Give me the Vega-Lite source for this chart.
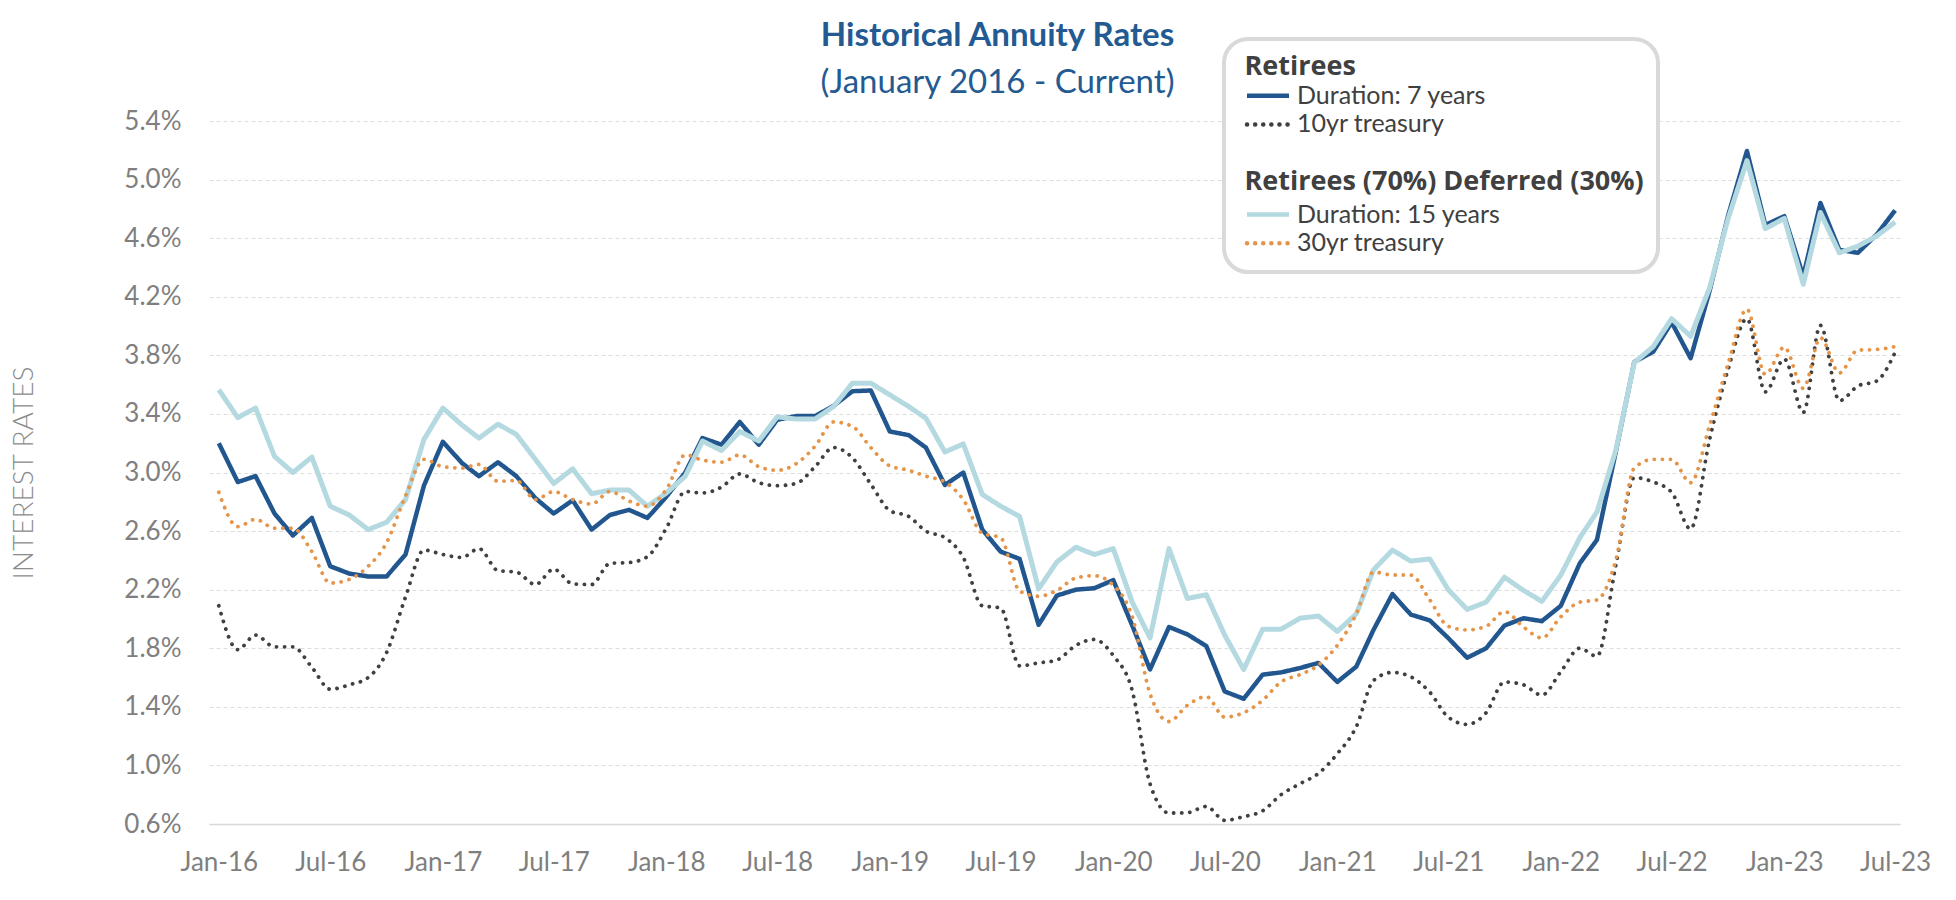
{
  "$schema": "https://vega.github.io/schema/vega-lite/v6.json",
  "width": 1691,
  "height": 703,
  "autosize": {"type": "none"},
  "padding": {"left": 209, "top": 121, "right": 56, "bottom": 76},
  "background": "white",
  "title": {
    "text": "Historical Annuity Rates",
    "subtitle": "(January 2016 - Current)",
    "anchor": "middle",
    "dx": -57,
    "dy": 71,
    "offset": 8,
    "font": "Lato",
    "fontSize": 33,
    "fontWeight": "bold",
    "color": "#235A92",
    "subtitleFont": "Lato",
    "subtitleFontSize": 33,
    "subtitleFontWeight": "normal",
    "subtitleColor": "#235A92",
    "subtitlePadding": 14
  },
  "data": {"values": [
    {"date":"2016-01-01","series":"Duration: 7 years","rate":3.20},{"date":"2016-02-01","series":"Duration: 7 years","rate":2.935},{"date":"2016-03-01","series":"Duration: 7 years","rate":2.975},{"date":"2016-04-01","series":"Duration: 7 years","rate":2.72},{"date":"2016-05-01","series":"Duration: 7 years","rate":2.57},{"date":"2016-06-01","series":"Duration: 7 years","rate":2.69},{"date":"2016-07-01","series":"Duration: 7 years","rate":2.36},{"date":"2016-08-01","series":"Duration: 7 years","rate":2.31},{"date":"2016-09-01","series":"Duration: 7 years","rate":2.29},{"date":"2016-10-01","series":"Duration: 7 years","rate":2.29},{"date":"2016-11-01","series":"Duration: 7 years","rate":2.44},{"date":"2016-12-01","series":"Duration: 7 years","rate":2.91},
    {"date":"2017-01-01","series":"Duration: 7 years","rate":3.21},{"date":"2017-02-01","series":"Duration: 7 years","rate":3.065},{"date":"2017-03-01","series":"Duration: 7 years","rate":2.975},{"date":"2017-04-01","series":"Duration: 7 years","rate":3.07},{"date":"2017-05-01","series":"Duration: 7 years","rate":2.975},{"date":"2017-06-01","series":"Duration: 7 years","rate":2.825},{"date":"2017-07-01","series":"Duration: 7 years","rate":2.72},{"date":"2017-08-01","series":"Duration: 7 years","rate":2.81},{"date":"2017-09-01","series":"Duration: 7 years","rate":2.61},{"date":"2017-10-01","series":"Duration: 7 years","rate":2.71},{"date":"2017-11-01","series":"Duration: 7 years","rate":2.745},{"date":"2017-12-01","series":"Duration: 7 years","rate":2.69},
    {"date":"2018-01-01","series":"Duration: 7 years","rate":2.835},{"date":"2018-02-01","series":"Duration: 7 years","rate":3.00},{"date":"2018-03-01","series":"Duration: 7 years","rate":3.235},{"date":"2018-04-01","series":"Duration: 7 years","rate":3.19},{"date":"2018-05-01","series":"Duration: 7 years","rate":3.345},{"date":"2018-06-01","series":"Duration: 7 years","rate":3.19},{"date":"2018-07-01","series":"Duration: 7 years","rate":3.36},{"date":"2018-08-01","series":"Duration: 7 years","rate":3.385},{"date":"2018-09-01","series":"Duration: 7 years","rate":3.385},{"date":"2018-10-01","series":"Duration: 7 years","rate":3.455},{"date":"2018-11-01","series":"Duration: 7 years","rate":3.555},{"date":"2018-12-01","series":"Duration: 7 years","rate":3.56},
    {"date":"2019-01-01","series":"Duration: 7 years","rate":3.28},{"date":"2019-02-01","series":"Duration: 7 years","rate":3.255},{"date":"2019-03-01","series":"Duration: 7 years","rate":3.17},{"date":"2019-04-01","series":"Duration: 7 years","rate":2.915},{"date":"2019-05-01","series":"Duration: 7 years","rate":3.00},{"date":"2019-06-01","series":"Duration: 7 years","rate":2.61},{"date":"2019-07-01","series":"Duration: 7 years","rate":2.46},{"date":"2019-08-01","series":"Duration: 7 years","rate":2.41},{"date":"2019-09-01","series":"Duration: 7 years","rate":1.96},{"date":"2019-10-01","series":"Duration: 7 years","rate":2.16},{"date":"2019-11-01","series":"Duration: 7 years","rate":2.20},{"date":"2019-12-01","series":"Duration: 7 years","rate":2.21},
    {"date":"2020-01-01","series":"Duration: 7 years","rate":2.265},{"date":"2020-02-01","series":"Duration: 7 years","rate":1.955},{"date":"2020-03-01","series":"Duration: 7 years","rate":1.655},{"date":"2020-04-01","series":"Duration: 7 years","rate":1.945},{"date":"2020-05-01","series":"Duration: 7 years","rate":1.895},{"date":"2020-06-01","series":"Duration: 7 years","rate":1.815},{"date":"2020-07-01","series":"Duration: 7 years","rate":1.505},{"date":"2020-08-01","series":"Duration: 7 years","rate":1.455},{"date":"2020-09-01","series":"Duration: 7 years","rate":1.62},{"date":"2020-10-01","series":"Duration: 7 years","rate":1.635},{"date":"2020-11-01","series":"Duration: 7 years","rate":1.665},{"date":"2020-12-01","series":"Duration: 7 years","rate":1.70},
    {"date":"2021-01-01","series":"Duration: 7 years","rate":1.57},{"date":"2021-02-01","series":"Duration: 7 years","rate":1.675},{"date":"2021-03-01","series":"Duration: 7 years","rate":1.925},{"date":"2021-04-01","series":"Duration: 7 years","rate":2.17},{"date":"2021-05-01","series":"Duration: 7 years","rate":2.03},{"date":"2021-06-01","series":"Duration: 7 years","rate":1.99},{"date":"2021-07-01","series":"Duration: 7 years","rate":1.87},{"date":"2021-08-01","series":"Duration: 7 years","rate":1.735},{"date":"2021-09-01","series":"Duration: 7 years","rate":1.80},{"date":"2021-10-01","series":"Duration: 7 years","rate":1.955},{"date":"2021-11-01","series":"Duration: 7 years","rate":2.005},{"date":"2021-12-01","series":"Duration: 7 years","rate":1.985},
    {"date":"2022-01-01","series":"Duration: 7 years","rate":2.09},{"date":"2022-02-01","series":"Duration: 7 years","rate":2.38},{"date":"2022-03-01","series":"Duration: 7 years","rate":2.54},{"date":"2022-04-01","series":"Duration: 7 years","rate":3.145},{"date":"2022-05-01","series":"Duration: 7 years","rate":3.755},{"date":"2022-06-01","series":"Duration: 7 years","rate":3.825},{"date":"2022-07-01","series":"Duration: 7 years","rate":4.025},{"date":"2022-08-01","series":"Duration: 7 years","rate":3.78},{"date":"2022-09-01","series":"Duration: 7 years","rate":4.24},{"date":"2022-10-01","series":"Duration: 7 years","rate":4.75},{"date":"2022-11-01","series":"Duration: 7 years","rate":5.195},{"date":"2022-12-01","series":"Duration: 7 years","rate":4.69},
    {"date":"2023-01-01","series":"Duration: 7 years","rate":4.75},{"date":"2023-02-01","series":"Duration: 7 years","rate":4.34},{"date":"2023-03-01","series":"Duration: 7 years","rate":4.84},{"date":"2023-04-01","series":"Duration: 7 years","rate":4.52},{"date":"2023-05-01","series":"Duration: 7 years","rate":4.50},{"date":"2023-06-01","series":"Duration: 7 years","rate":4.625},{"date":"2023-07-01","series":"Duration: 7 years","rate":4.79},

    {"date":"2016-01-01","series":"10yr treasury","rate":2.09},{"date":"2016-02-01","series":"10yr treasury","rate":1.79},{"date":"2016-03-01","series":"10yr treasury","rate":1.89},{"date":"2016-04-01","series":"10yr treasury","rate":1.81},{"date":"2016-05-01","series":"10yr treasury","rate":1.81},{"date":"2016-06-01","series":"10yr treasury","rate":1.67},{"date":"2016-07-01","series":"10yr treasury","rate":1.52},{"date":"2016-08-01","series":"10yr treasury","rate":1.55},{"date":"2016-09-01","series":"10yr treasury","rate":1.60},{"date":"2016-10-01","series":"10yr treasury","rate":1.77},{"date":"2016-11-01","series":"10yr treasury","rate":2.15},{"date":"2016-12-01","series":"10yr treasury","rate":2.47},
    {"date":"2017-01-01","series":"10yr treasury","rate":2.44},{"date":"2017-02-01","series":"10yr treasury","rate":2.42},{"date":"2017-03-01","series":"10yr treasury","rate":2.48},{"date":"2017-04-01","series":"10yr treasury","rate":2.33},{"date":"2017-05-01","series":"10yr treasury","rate":2.32},{"date":"2017-06-01","series":"10yr treasury","rate":2.235},{"date":"2017-07-01","series":"10yr treasury","rate":2.34},{"date":"2017-08-01","series":"10yr treasury","rate":2.24},{"date":"2017-09-01","series":"10yr treasury","rate":2.235},{"date":"2017-10-01","series":"10yr treasury","rate":2.38},{"date":"2017-11-01","series":"10yr treasury","rate":2.385},{"date":"2017-12-01","series":"10yr treasury","rate":2.425},
    {"date":"2018-01-01","series":"10yr treasury","rate":2.62},{"date":"2018-02-01","series":"10yr treasury","rate":2.87},{"date":"2018-03-01","series":"10yr treasury","rate":2.86},{"date":"2018-04-01","series":"10yr treasury","rate":2.90},{"date":"2018-05-01","series":"10yr treasury","rate":2.99},{"date":"2018-06-01","series":"10yr treasury","rate":2.93},{"date":"2018-07-01","series":"10yr treasury","rate":2.91},{"date":"2018-08-01","series":"10yr treasury","rate":2.925},{"date":"2018-09-01","series":"10yr treasury","rate":3.04},{"date":"2018-10-01","series":"10yr treasury","rate":3.17},{"date":"2018-11-01","series":"10yr treasury","rate":3.10},{"date":"2018-12-01","series":"10yr treasury","rate":2.92},
    {"date":"2019-01-01","series":"10yr treasury","rate":2.74},{"date":"2019-02-01","series":"10yr treasury","rate":2.70},{"date":"2019-03-01","series":"10yr treasury","rate":2.60},{"date":"2019-04-01","series":"10yr treasury","rate":2.555},{"date":"2019-05-01","series":"10yr treasury","rate":2.42},{"date":"2019-06-01","series":"10yr treasury","rate":2.09},{"date":"2019-07-01","series":"10yr treasury","rate":2.075},{"date":"2019-08-01","series":"10yr treasury","rate":1.68},{"date":"2019-09-01","series":"10yr treasury","rate":1.70},{"date":"2019-10-01","series":"10yr treasury","rate":1.72},{"date":"2019-11-01","series":"10yr treasury","rate":1.82},{"date":"2019-12-01","series":"10yr treasury","rate":1.86},
    {"date":"2020-01-01","series":"10yr treasury","rate":1.75},{"date":"2020-02-01","series":"10yr treasury","rate":1.51},{"date":"2020-03-01","series":"10yr treasury","rate":0.875},{"date":"2020-04-01","series":"10yr treasury","rate":0.675},{"date":"2020-05-01","series":"10yr treasury","rate":0.677},{"date":"2020-06-01","series":"10yr treasury","rate":0.72},{"date":"2020-07-01","series":"10yr treasury","rate":0.625},{"date":"2020-08-01","series":"10yr treasury","rate":0.65},{"date":"2020-09-01","series":"10yr treasury","rate":0.69},{"date":"2020-10-01","series":"10yr treasury","rate":0.80},{"date":"2020-11-01","series":"10yr treasury","rate":0.875},{"date":"2020-12-01","series":"10yr treasury","rate":0.945},
    {"date":"2021-01-01","series":"10yr treasury","rate":1.08},{"date":"2021-02-01","series":"10yr treasury","rate":1.265},{"date":"2021-03-01","series":"10yr treasury","rate":1.58},{"date":"2021-04-01","series":"10yr treasury","rate":1.635},{"date":"2021-05-01","series":"10yr treasury","rate":1.605},{"date":"2021-06-01","series":"10yr treasury","rate":1.50},{"date":"2021-07-01","series":"10yr treasury","rate":1.33},{"date":"2021-08-01","series":"10yr treasury","rate":1.28},{"date":"2021-09-01","series":"10yr treasury","rate":1.36},{"date":"2021-10-01","series":"10yr treasury","rate":1.57},{"date":"2021-11-01","series":"10yr treasury","rate":1.55},{"date":"2021-12-01","series":"10yr treasury","rate":1.48},
    {"date":"2022-01-01","series":"10yr treasury","rate":1.64},{"date":"2022-02-01","series":"10yr treasury","rate":1.80},{"date":"2022-03-01","series":"10yr treasury","rate":1.745},{"date":"2022-04-01","series":"10yr treasury","rate":2.37},{"date":"2022-05-01","series":"10yr treasury","rate":2.965},{"date":"2022-06-01","series":"10yr treasury","rate":2.935},{"date":"2022-07-01","series":"10yr treasury","rate":2.865},{"date":"2022-08-01","series":"10yr treasury","rate":2.615},{"date":"2022-09-01","series":"10yr treasury","rate":3.225},{"date":"2022-10-01","series":"10yr treasury","rate":3.70},{"date":"2022-11-01","series":"10yr treasury","rate":4.05},{"date":"2022-12-01","series":"10yr treasury","rate":3.55},
    {"date":"2023-01-01","series":"10yr treasury","rate":3.775},{"date":"2023-02-01","series":"10yr treasury","rate":3.41},{"date":"2023-03-01","series":"10yr treasury","rate":4.005},{"date":"2023-04-01","series":"10yr treasury","rate":3.49},{"date":"2023-05-01","series":"10yr treasury","rate":3.59},{"date":"2023-06-01","series":"10yr treasury","rate":3.625},{"date":"2023-07-01","series":"10yr treasury","rate":3.82},

    {"date":"2016-01-01","series":"Duration: 15 years","rate":3.565},{"date":"2016-02-01","series":"Duration: 15 years","rate":3.375},{"date":"2016-03-01","series":"Duration: 15 years","rate":3.44},{"date":"2016-04-01","series":"Duration: 15 years","rate":3.11},{"date":"2016-05-01","series":"Duration: 15 years","rate":3.00},{"date":"2016-06-01","series":"Duration: 15 years","rate":3.105},{"date":"2016-07-01","series":"Duration: 15 years","rate":2.77},{"date":"2016-08-01","series":"Duration: 15 years","rate":2.71},{"date":"2016-09-01","series":"Duration: 15 years","rate":2.61},{"date":"2016-10-01","series":"Duration: 15 years","rate":2.66},{"date":"2016-11-01","series":"Duration: 15 years","rate":2.815},{"date":"2016-12-01","series":"Duration: 15 years","rate":3.225},
    {"date":"2017-01-01","series":"Duration: 15 years","rate":3.44},{"date":"2017-02-01","series":"Duration: 15 years","rate":3.325},{"date":"2017-03-01","series":"Duration: 15 years","rate":3.235},{"date":"2017-04-01","series":"Duration: 15 years","rate":3.33},{"date":"2017-05-01","series":"Duration: 15 years","rate":3.26},{"date":"2017-06-01","series":"Duration: 15 years","rate":3.09},{"date":"2017-07-01","series":"Duration: 15 years","rate":2.925},{"date":"2017-08-01","series":"Duration: 15 years","rate":3.025},{"date":"2017-09-01","series":"Duration: 15 years","rate":2.855},{"date":"2017-10-01","series":"Duration: 15 years","rate":2.88},{"date":"2017-11-01","series":"Duration: 15 years","rate":2.88},{"date":"2017-12-01","series":"Duration: 15 years","rate":2.77},
    {"date":"2018-01-01","series":"Duration: 15 years","rate":2.86},{"date":"2018-02-01","series":"Duration: 15 years","rate":2.975},{"date":"2018-03-01","series":"Duration: 15 years","rate":3.215},{"date":"2018-04-01","series":"Duration: 15 years","rate":3.15},{"date":"2018-05-01","series":"Duration: 15 years","rate":3.28},{"date":"2018-06-01","series":"Duration: 15 years","rate":3.215},{"date":"2018-07-01","series":"Duration: 15 years","rate":3.38},{"date":"2018-08-01","series":"Duration: 15 years","rate":3.365},{"date":"2018-09-01","series":"Duration: 15 years","rate":3.365},{"date":"2018-10-01","series":"Duration: 15 years","rate":3.45},{"date":"2018-11-01","series":"Duration: 15 years","rate":3.61},{"date":"2018-12-01","series":"Duration: 15 years","rate":3.61},
    {"date":"2019-01-01","series":"Duration: 15 years","rate":3.53},{"date":"2019-02-01","series":"Duration: 15 years","rate":3.45},{"date":"2019-03-01","series":"Duration: 15 years","rate":3.37},{"date":"2019-04-01","series":"Duration: 15 years","rate":3.14},{"date":"2019-05-01","series":"Duration: 15 years","rate":3.195},{"date":"2019-06-01","series":"Duration: 15 years","rate":2.85},{"date":"2019-07-01","series":"Duration: 15 years","rate":2.77},{"date":"2019-08-01","series":"Duration: 15 years","rate":2.70},{"date":"2019-09-01","series":"Duration: 15 years","rate":2.205},{"date":"2019-10-01","series":"Duration: 15 years","rate":2.39},{"date":"2019-11-01","series":"Duration: 15 years","rate":2.49},{"date":"2019-12-01","series":"Duration: 15 years","rate":2.44},
    {"date":"2020-01-01","series":"Duration: 15 years","rate":2.48},{"date":"2020-02-01","series":"Duration: 15 years","rate":2.115},{"date":"2020-03-01","series":"Duration: 15 years","rate":1.87},{"date":"2020-04-01","series":"Duration: 15 years","rate":2.48},{"date":"2020-05-01","series":"Duration: 15 years","rate":2.14},{"date":"2020-06-01","series":"Duration: 15 years","rate":2.165},{"date":"2020-07-01","series":"Duration: 15 years","rate":1.89},{"date":"2020-08-01","series":"Duration: 15 years","rate":1.655},{"date":"2020-09-01","series":"Duration: 15 years","rate":1.93},{"date":"2020-10-01","series":"Duration: 15 years","rate":1.93},{"date":"2020-11-01","series":"Duration: 15 years","rate":2.005},{"date":"2020-12-01","series":"Duration: 15 years","rate":2.02},
    {"date":"2021-01-01","series":"Duration: 15 years","rate":1.915},{"date":"2021-02-01","series":"Duration: 15 years","rate":2.035},{"date":"2021-03-01","series":"Duration: 15 years","rate":2.335},{"date":"2021-04-01","series":"Duration: 15 years","rate":2.47},{"date":"2021-05-01","series":"Duration: 15 years","rate":2.395},{"date":"2021-06-01","series":"Duration: 15 years","rate":2.41},{"date":"2021-07-01","series":"Duration: 15 years","rate":2.20},{"date":"2021-08-01","series":"Duration: 15 years","rate":2.065},{"date":"2021-09-01","series":"Duration: 15 years","rate":2.115},{"date":"2021-10-01","series":"Duration: 15 years","rate":2.285},{"date":"2021-11-01","series":"Duration: 15 years","rate":2.195},{"date":"2021-12-01","series":"Duration: 15 years","rate":2.12},
    {"date":"2022-01-01","series":"Duration: 15 years","rate":2.30},{"date":"2022-02-01","series":"Duration: 15 years","rate":2.555},{"date":"2022-03-01","series":"Duration: 15 years","rate":2.73},{"date":"2022-04-01","series":"Duration: 15 years","rate":3.155},{"date":"2022-05-01","series":"Duration: 15 years","rate":3.75},{"date":"2022-06-01","series":"Duration: 15 years","rate":3.86},{"date":"2022-07-01","series":"Duration: 15 years","rate":4.05},{"date":"2022-08-01","series":"Duration: 15 years","rate":3.93},{"date":"2022-09-01","series":"Duration: 15 years","rate":4.26},{"date":"2022-10-01","series":"Duration: 15 years","rate":4.73},{"date":"2022-11-01","series":"Duration: 15 years","rate":5.13},{"date":"2022-12-01","series":"Duration: 15 years","rate":4.665},
    {"date":"2023-01-01","series":"Duration: 15 years","rate":4.735},{"date":"2023-02-01","series":"Duration: 15 years","rate":4.285},{"date":"2023-03-01","series":"Duration: 15 years","rate":4.775},{"date":"2023-04-01","series":"Duration: 15 years","rate":4.50},{"date":"2023-05-01","series":"Duration: 15 years","rate":4.545},{"date":"2023-06-01","series":"Duration: 15 years","rate":4.615},{"date":"2023-07-01","series":"Duration: 15 years","rate":4.71},

    {"date":"2016-01-01","series":"30yr treasury","rate":2.865},{"date":"2016-02-01","series":"30yr treasury","rate":2.63},{"date":"2016-03-01","series":"30yr treasury","rate":2.68},{"date":"2016-04-01","series":"30yr treasury","rate":2.62},{"date":"2016-05-01","series":"30yr treasury","rate":2.62},{"date":"2016-06-01","series":"30yr treasury","rate":2.46},{"date":"2016-07-01","series":"30yr treasury","rate":2.245},{"date":"2016-08-01","series":"30yr treasury","rate":2.27},{"date":"2016-09-01","series":"30yr treasury","rate":2.36},{"date":"2016-10-01","series":"30yr treasury","rate":2.52},{"date":"2016-11-01","series":"30yr treasury","rate":2.84},{"date":"2016-12-01","series":"30yr treasury","rate":3.09},
    {"date":"2017-01-01","series":"30yr treasury","rate":3.04},{"date":"2017-02-01","series":"30yr treasury","rate":3.03},{"date":"2017-03-01","series":"30yr treasury","rate":3.055},{"date":"2017-04-01","series":"30yr treasury","rate":2.94},{"date":"2017-05-01","series":"30yr treasury","rate":2.945},{"date":"2017-06-01","series":"30yr treasury","rate":2.815},{"date":"2017-07-01","series":"30yr treasury","rate":2.87},{"date":"2017-08-01","series":"30yr treasury","rate":2.815},{"date":"2017-09-01","series":"30yr treasury","rate":2.785},{"date":"2017-10-01","series":"30yr treasury","rate":2.87},{"date":"2017-11-01","series":"30yr treasury","rate":2.805},{"date":"2017-12-01","series":"30yr treasury","rate":2.77},
    {"date":"2018-01-01","series":"30yr treasury","rate":2.885},{"date":"2018-02-01","series":"30yr treasury","rate":3.12},{"date":"2018-03-01","series":"30yr treasury","rate":3.085},{"date":"2018-04-01","series":"30yr treasury","rate":3.07},{"date":"2018-05-01","series":"30yr treasury","rate":3.12},{"date":"2018-06-01","series":"30yr treasury","rate":3.04},{"date":"2018-07-01","series":"30yr treasury","rate":3.015},{"date":"2018-08-01","series":"30yr treasury","rate":3.06},{"date":"2018-09-01","series":"30yr treasury","rate":3.18},{"date":"2018-10-01","series":"30yr treasury","rate":3.345},{"date":"2018-11-01","series":"30yr treasury","rate":3.315},{"date":"2018-12-01","series":"30yr treasury","rate":3.17},
    {"date":"2019-01-01","series":"30yr treasury","rate":3.045},{"date":"2019-02-01","series":"30yr treasury","rate":3.015},{"date":"2019-03-01","series":"30yr treasury","rate":2.975},{"date":"2019-04-01","series":"30yr treasury","rate":2.935},{"date":"2019-05-01","series":"30yr treasury","rate":2.815},{"date":"2019-06-01","series":"30yr treasury","rate":2.585},{"date":"2019-07-01","series":"30yr treasury","rate":2.555},{"date":"2019-08-01","series":"30yr treasury","rate":2.19},{"date":"2019-09-01","series":"30yr treasury","rate":2.155},{"date":"2019-10-01","series":"30yr treasury","rate":2.195},{"date":"2019-11-01","series":"30yr treasury","rate":2.28},{"date":"2019-12-01","series":"30yr treasury","rate":2.295},
    {"date":"2020-01-01","series":"30yr treasury","rate":2.23},{"date":"2020-02-01","series":"30yr treasury","rate":2.015},{"date":"2020-03-01","series":"30yr treasury","rate":1.49},{"date":"2020-04-01","series":"30yr treasury","rate":1.30},{"date":"2020-05-01","series":"30yr treasury","rate":1.41},{"date":"2020-06-01","series":"30yr treasury","rate":1.47},{"date":"2020-07-01","series":"30yr treasury","rate":1.33},{"date":"2020-08-01","series":"30yr treasury","rate":1.36},{"date":"2020-09-01","series":"30yr treasury","rate":1.445},{"date":"2020-10-01","series":"30yr treasury","rate":1.57},{"date":"2020-11-01","series":"30yr treasury","rate":1.62},{"date":"2020-12-01","series":"30yr treasury","rate":1.685},
    {"date":"2021-01-01","series":"30yr treasury","rate":1.82},{"date":"2021-02-01","series":"30yr treasury","rate":2.035},{"date":"2021-03-01","series":"30yr treasury","rate":2.32},{"date":"2021-04-01","series":"30yr treasury","rate":2.30},{"date":"2021-05-01","series":"30yr treasury","rate":2.30},{"date":"2021-06-01","series":"30yr treasury","rate":2.13},{"date":"2021-07-01","series":"30yr treasury","rate":1.95},{"date":"2021-08-01","series":"30yr treasury","rate":1.925},{"date":"2021-09-01","series":"30yr treasury","rate":1.95},{"date":"2021-10-01","series":"30yr treasury","rate":2.05},{"date":"2021-11-01","series":"30yr treasury","rate":1.945},{"date":"2021-12-01","series":"30yr treasury","rate":1.87},
    {"date":"2022-01-01","series":"30yr treasury","rate":2.015},{"date":"2022-02-01","series":"30yr treasury","rate":2.115},{"date":"2022-03-01","series":"30yr treasury","rate":2.13},{"date":"2022-04-01","series":"30yr treasury","rate":2.405},{"date":"2022-05-01","series":"30yr treasury","rate":3.03},{"date":"2022-06-01","series":"30yr treasury","rate":3.09},{"date":"2022-07-01","series":"30yr treasury","rate":3.09},{"date":"2022-08-01","series":"30yr treasury","rate":2.93},{"date":"2022-09-01","series":"30yr treasury","rate":3.32},{"date":"2022-10-01","series":"30yr treasury","rate":3.74},{"date":"2022-11-01","series":"30yr treasury","rate":4.115},{"date":"2022-12-01","series":"30yr treasury","rate":3.67},
    {"date":"2023-01-01","series":"30yr treasury","rate":3.855},{"date":"2023-02-01","series":"30yr treasury","rate":3.575},{"date":"2023-03-01","series":"30yr treasury","rate":3.92},{"date":"2023-04-01","series":"30yr treasury","rate":3.68},{"date":"2023-05-01","series":"30yr treasury","rate":3.835},{"date":"2023-06-01","series":"30yr treasury","rate":3.84},{"date":"2023-07-01","series":"30yr treasury","rate":3.86}
  ]},
  "encoding": {
    "x": {
      "field": "date",
      "type": "temporal",
      "scale": {"type": "utc", "domain": [{"year": 2015, "month": 12, "date": 16, "utc": true}, {"year": 2023, "month": 7, "date": 9, "utc": true}]},
      "axis": {
        "title": null,
        "values": [
          {"year": 2016, "month": 1, "date": 1, "utc": true}, {"year": 2016, "month": 7, "date": 1, "utc": true},
          {"year": 2017, "month": 1, "date": 1, "utc": true}, {"year": 2017, "month": 7, "date": 1, "utc": true},
          {"year": 2018, "month": 1, "date": 1, "utc": true}, {"year": 2018, "month": 7, "date": 1, "utc": true},
          {"year": 2019, "month": 1, "date": 1, "utc": true}, {"year": 2019, "month": 7, "date": 1, "utc": true},
          {"year": 2020, "month": 1, "date": 1, "utc": true}, {"year": 2020, "month": 7, "date": 1, "utc": true},
          {"year": 2021, "month": 1, "date": 1, "utc": true}, {"year": 2021, "month": 7, "date": 1, "utc": true},
          {"year": 2022, "month": 1, "date": 1, "utc": true}, {"year": 2022, "month": 7, "date": 1, "utc": true},
          {"year": 2023, "month": 1, "date": 1, "utc": true}, {"year": 2023, "month": 7, "date": 1, "utc": true}
        ],
        "labelExpr": "utcFormat(datum.value, '%b-%y')",
        "labelFont": "Lato",
        "labelFontSize": 26,
        "labelColor": "#7f7f7f",
        "labelPadding": 25,
        "labelFlush": false,
        "labelOverlap": false,
        "ticks": false,
        "tickSize": 0,
        "grid": false,
        "domainColor": "#d9d9d9",
        "domainWidth": 1.5
      }
    },
    "y": {
      "field": "rate",
      "type": "quantitative",
      "scale": {"domain": [0.6, 5.4], "nice": false, "zero": false},
      "axis": {
        "values": [0.6, 1.0, 1.4, 1.8, 2.2, 2.6, 3.0, 3.4, 3.8, 4.2, 4.6, 5.0, 5.4],
        "labelExpr": "format(datum.value, '.1f') + '%'",
        "labelFont": "Lato",
        "labelFontSize": 26,
        "labelColor": "#7f7f7f",
        "labelPadding": 28,
        "ticks": false,
        "tickSize": 0,
        "domain": false,
        "gridColor": "#dddddd",
        "gridDash": [4, 3],
        "gridWidth": 1,
        "title": "INTEREST RATES",
        "titleFont": "Lato",
        "titleFontWeight": 300,
        "titleFontSize": 28,
        "titleColor": "#8c8c8c",
        "titleX": -185,
        "titleY": 351.5,
        "titleAlign": "center",
        "titleBaseline": "middle"
      }
    },
    "color": {
      "field": "series",
      "type": "nominal",
      "scale": {
        "domain": ["Retirees", "Duration: 7 years", "10yr treasury", "\u00a0", "Retirees (70%) Deferred (30%)", "Duration: 15 years", "30yr treasury"],
        "range": ["rgba(0,0,0,0)", "#22568F", "#404040", "rgba(0,0,0,0)", "rgba(0,0,0,0)", "#B4D9E0", "#E5954A"]
      },
      "legend": {
        "title": null,
        "orient": "none",
        "legendX": 1015,
        "legendY": -82,
        "symbolType": "stroke",
        "symbolSize": 1764,
        "symbolStrokeWidth": 4.5,
        "symbolOffset": 6.5,
        "labelOffset": 5.5,
        "labelFont": "Lato",
        "labelFontSize": 25,
        "labelColor": "#404040",
        "labelLimit": 800,
        "clipHeight": 28,
        "rowPadding": 0.7,
        "padding": 14,
        "strokeColor": "#d9d9d9",
        "fillColor": "white",
        "cornerRadius": 24,
        "encode": {
          "legend": {"update": {"strokeWidth": {"value": 4}}},
          "labels": {"update": {
            "font": {"signal": "(datum.value === 'Retirees' || datum.value === 'Retirees (70%) Deferred (30%)') ? 'Open Sans' : 'Lato'"},
            "fontWeight": {"signal": "(datum.value === 'Retirees' || datum.value === 'Retirees (70%) Deferred (30%)') ? 'bold' : 'normal'"},
            "fontSize": {"signal": "(datum.value === 'Retirees' || datum.value === 'Retirees (70%) Deferred (30%)') ? 27 : 25"},
            "dx": {"signal": "(datum.value === 'Retirees' || datum.value === 'Retirees (70%) Deferred (30%)') ? -52.5 : 0"},
            "dy": {"signal": "datum.value === 'Retirees (70%) Deferred (30%)' ? -4 : 0"}
          }},
          "symbols": {"update": {
            "strokeDash": {"signal": "indexof(datum.value, 'treasury') >= 0 ? [0.1, 12.5] : [1, 0]"},
            "strokeCap": {"signal": "indexof(datum.value, 'treasury') >= 0 ? 'round' : 'butt'"}
          }}
        }
      }
    },
    "strokeDash": {
      "field": "series",
      "type": "nominal",
      "scale": {
        "domain": ["Retirees", "Duration: 7 years", "10yr treasury", "\u00a0", "Retirees (70%) Deferred (30%)", "Duration: 15 years", "30yr treasury"],
        "range": [[1, 0], [1, 0], [0.1, 8], [1, 0], [1, 0], [1, 0], [0.1, 8]]
      },
      "legend": null
    }
  },
  "layer": [
    {"transform": [{"filter": "datum.series === 'Duration: 7 years'"}], "mark": {"type": "line", "strokeWidth": 4.5, "strokeJoin": "round"}},
    {"transform": [{"filter": "datum.series === '10yr treasury'"}], "mark": {"type": "line", "strokeWidth": 3.8, "strokeCap": "round", "interpolate": "monotone"}},
    {"transform": [{"filter": "datum.series === 'Duration: 15 years'"}], "mark": {"type": "line", "strokeWidth": 5, "strokeJoin": "round"}},
    {"transform": [{"filter": "datum.series === '30yr treasury'"}], "mark": {"type": "line", "strokeWidth": 3.8, "strokeCap": "round", "interpolate": "monotone"}}
  ],
  "config": {"view": {"stroke": null}, "font": "Lato"}
}
